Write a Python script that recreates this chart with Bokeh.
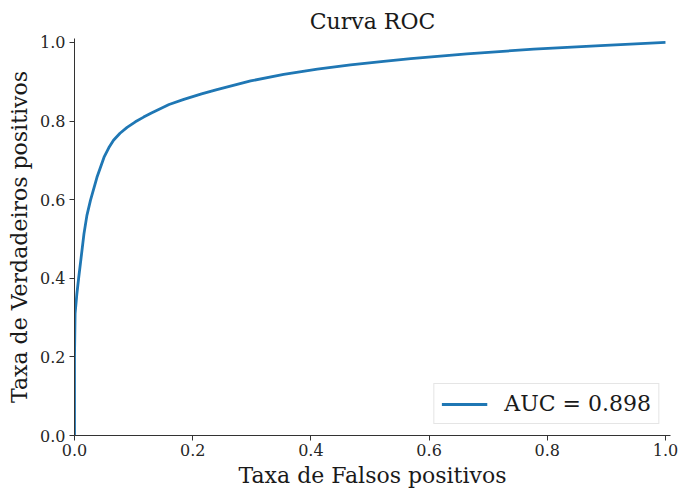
from bokeh.plotting import figure
from bokeh.models import FixedTicker, PrintfTickFormatter, Range1d, Legend, LegendItem
from bokeh.embed import file_html
from bokeh.resources import INLINE

# ROC curve values
fpr = [0.0, 0.0, 0.001, 0.004, 0.007, 0.011, 0.016, 0.021, 0.027, 0.038, 0.050, 0.058,
       0.066, 0.077, 0.089, 0.103, 0.117, 0.131, 0.146, 0.160, 0.185, 0.200, 0.215,
       0.241, 0.298, 0.354, 0.411, 0.467, 0.523, 0.569, 0.664, 0.777, 0.890, 1.0]
tpr = [0.0, 0.20, 0.31, 0.36, 0.40, 0.45, 0.513, 0.56, 0.598, 0.657, 0.708, 0.732,
       0.751, 0.769, 0.784, 0.798, 0.810, 0.821, 0.832, 0.842, 0.855, 0.862, 0.869,
       0.880, 0.902, 0.919, 0.932, 0.943, 0.952, 0.959, 0.971, 0.983, 0.992, 1.0]
auc_label = "AUC = 0.898"
ticks = [0.0, 0.2, 0.4, 0.6, 0.8, 1.0]

title = "Curva ROC"
xlabel = "Taxa de Falsos positivos"
ylabel = "Taxa de Verdadeiros positivos"

FONT = "DejaVu Serif"
TXT = "#262626"

p = figure(width=678, height=491, output_backend="svg", toolbar_location=None,
           x_range=Range1d(0.0, 1.0085), y_range=Range1d(0.0, 1.01),
           min_border_left=74, min_border_right=8, min_border_top=38, min_border_bottom=56,
           title=title)

p.title.text_font = FONT
p.title.text_font_size = "22px"
p.title.text_font_style = "normal"
p.title.align = "center"
p.title.text_color = "#1a1a1a"

p.grid.visible = False
p.outline_line_color = None
p.background_fill_color = "white"
p.border_fill_color = "white"

for ax in (p.xaxis[0], p.yaxis[0]):
    ax.ticker = FixedTicker(ticks=ticks)
    ax.formatter = PrintfTickFormatter(format="%.1f")
    ax.minor_tick_line_color = None
    ax.major_tick_in = 0
    ax.major_tick_out = 5
    ax.major_tick_line_color = "#333333"
    ax.axis_line_color = "#333333"
    ax.axis_line_width = 1
    ax.major_label_text_font = FONT
    ax.major_label_text_font_size = "16px"
    ax.major_label_text_color = TXT
    ax.axis_label_text_font = FONT
    ax.axis_label_text_font_size = "22px"
    ax.axis_label_text_font_style = "normal"
    ax.axis_label_text_color = "#1a1a1a"

p.xaxis.axis_label = xlabel
p.yaxis.axis_label = ylabel
p.xaxis.major_label_standoff = 3
p.yaxis.major_label_standoff = 4
p.xaxis.axis_label_standoff = 4
p.yaxis.axis_label_standoff = 5

r = p.line(fpr, tpr, line_color="#1f77b4", line_width=2.8)

legend = Legend(items=[LegendItem(label=auc_label, renderers=[r])], location="bottom_right")
legend.label_text_font = FONT
legend.label_text_font_size = "22px"
legend.label_text_color = "#1a1a1a"
legend.glyph_width = 46
legend.glyph_height = 20
legend.label_standoff = 17
legend.padding = 7
legend.margin = 11
legend.border_line_color = "#cccccc"
legend.border_line_width = 1
legend.background_fill_alpha = 0.8
p.add_layout(legend)

open("out.html", "w").write(file_html(p, INLINE))
